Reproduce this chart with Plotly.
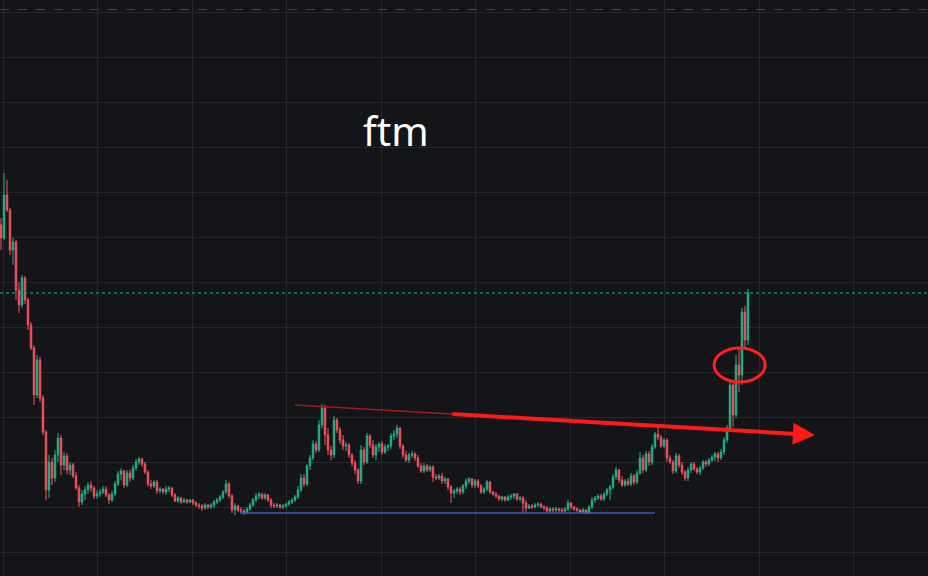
import plotly.graph_objects as go

# candle index (one per bar)
idx = list(range(250))

open_ = [372,359,402,387,347,355,307,292,319,297,272,249,202,237,199,165,107,135,119,142,
         159,132,141,127,132,121,109,95,103,107,112,109,101,103,105,108,102,97,103,113,
         123,126,112,124,119,129,135,138,133,125,113,111,115,106,108,105,108,109,102,96,
         99,95,97,95,97,94,92,91,89,92,90,92,95,97,100,105,113,101,87,91,
         87,86,84,88,92,97,101,103,99,102,97,92,91,92,90,91,93,95,97,100,
         107,119,113,131,139,153,147,172,189,162,147,142,177,167,157,151,152,142,134,127,
         116,147,135,161,152,142,150,153,145,150,151,161,163,169,151,142,137,142,143,139,
         131,126,131,127,130,120,119,121,116,118,110,104,106,108,105,111,116,118,112,116,
         111,105,108,115,105,103,101,98,100,97,100,101,103,98,99,94,89,91,90,92,
         93,90,89,86,88,87,88,87,86,88,94,90,88,87,85,87,84,90,97,99,
         101,98,103,107,110,120,127,117,112,116,113,121,115,124,139,127,143,135,150,163,
         160,151,157,139,135,126,141,132,125,119,127,133,128,125,129,135,133,137,140,143,
         139,145,157,169,212,182,232,222,285,257]
close = [359,402,387,347,355,307,292,319,297,272,249,202,237,199,165,107,135,119,142,159,
         132,141,127,132,121,109,95,103,107,112,109,101,103,105,108,102,97,103,113,123,
         126,112,124,119,129,135,138,133,125,113,111,115,106,108,105,108,109,102,96,99,
         95,97,95,97,94,92,91,89,92,90,92,95,97,100,105,113,101,87,91,87,
         86,84,88,92,97,101,103,99,102,97,92,91,92,90,91,93,95,97,100,107,
         119,113,131,139,153,147,172,189,162,147,142,177,167,157,151,152,142,134,127,116,
         147,135,161,152,142,150,153,145,150,151,161,163,169,151,142,137,142,143,139,131,
         126,131,127,130,120,119,121,116,118,110,104,106,108,105,111,116,118,112,116,111,
         105,108,115,105,103,101,98,100,97,100,101,103,98,99,94,89,91,90,92,93,
         90,89,86,88,87,88,87,86,88,94,90,88,87,85,87,84,90,97,99,101,
         98,103,107,110,120,127,117,112,116,113,121,115,124,139,127,143,135,150,163,160,
         151,157,139,135,126,141,132,125,119,127,133,128,125,129,135,133,137,140,143,139,
         145,157,169,212,182,232,222,285,257,304]
high = [379,424,417,389,359,357,315,322,321,299,275,252,242,240,202,167,142,139,147,164,
        162,145,144,135,134,125,112,107,111,115,116,111,107,108,111,111,104,106,116,126,
        129,127,127,127,132,138,140,139,135,127,117,117,117,110,109,111,111,110,104,101,
        100,99,98,98,98,96,94,93,94,93,94,97,99,102,107,117,115,103,94,92,
        90,88,90,94,99,104,105,104,104,103,99,94,94,93,93,94,97,99,102,111,
        123,123,133,142,157,156,177,193,192,169,151,181,179,170,162,155,154,144,137,129,
        152,150,164,163,157,153,155,156,153,153,164,167,172,170,153,146,144,146,145,142,
        134,134,133,132,132,123,123,124,120,119,112,108,110,110,113,119,120,119,118,118,
        113,110,117,116,106,105,102,101,101,102,103,104,104,101,101,97,93,93,94,95,
        94,92,91,90,90,90,89,89,90,97,95,91,90,88,89,88,92,100,101,103,
        103,105,109,112,123,130,128,121,118,119,124,123,127,145,142,146,146,153,165,171,
        162,159,159,142,137,144,143,135,127,130,135,135,130,131,137,137,139,142,145,145,
        148,160,172,215,217,242,249,289,291,308]
low = [347,357,385,342,332,297,284,289,293,267,247,192,199,195,162,97,99,112,115,135,
       122,127,123,122,119,107,90,92,97,103,105,98,98,100,103,100,93,95,101,111,
       117,109,110,115,117,126,132,130,123,110,108,109,103,104,103,102,105,100,95,94,
       93,94,93,94,92,90,88,86,87,88,88,89,93,95,98,103,99,84,82,85,
       84,82,83,86,90,95,98,97,97,95,89,89,89,88,88,89,91,93,95,98,
       105,110,111,127,137,144,145,169,152,142,137,139,164,153,147,146,139,131,123,113,
       113,132,133,149,139,137,145,142,143,146,148,157,159,148,139,135,134,139,136,129,
       124,124,125,125,115,117,117,113,113,107,94,99,103,102,103,108,113,109,109,109,
       103,103,106,103,101,99,96,96,95,96,97,98,96,96,84,84,88,88,89,90,
       89,87,85,85,85,85,85,84,85,86,88,86,85,84,84,83,83,88,94,97,
       96,96,101,97,108,117,114,110,110,111,111,112,113,122,124,125,131,132,148,157,
       149,149,135,133,123,124,129,122,116,116,124,126,123,122,127,130,131,135,136,135,
       137,142,154,167,170,179,205,212,249,252]

# annotation levels (same price units)
trend_start = (98, 192)
trend_end = (271.3, 162)
support_level = 84
support_span = (79.7, 218)
last_price = 304
top_level = 587.5
circle_box = (237.7, 254.7, 215, 249)

BG = "#141518"
GRID = "#25272b"
UP = "#1fb58a"
DOWN = "#f7525f"

fig = go.Figure()
fig.add_trace(go.Candlestick(
    x=idx, open=open_, high=high, low=low, close=close,
    increasing=dict(line=dict(color=UP, width=1), fillcolor=UP),
    decreasing=dict(line=dict(color=DOWN, width=1), fillcolor=DOWN),
    whiskerwidth=0, hoverinfo="skip", showlegend=False,
))

shapes = []
shapes.append(dict(type="line", xref="paper", x0=0, x1=1, yref="y", y0=top_level, y1=top_level,
                   line=dict(color="#35445a", width=1, dash="dash")))
shapes.append(dict(type="line", xref="paper", x0=0, x1=1, yref="y", y0=last_price, y1=last_price,
                   line=dict(color="#1fb58a", width=1, dash="dot")))
shapes.append(dict(type="line", x0=support_span[0], x1=support_span[1], y0=support_level, y1=support_level,
                   line=dict(color="#3a5ab8", width=1.5)))
shapes.append(dict(type="line", x0=trend_start[0], y0=trend_start[1],
                   x1=trend_start[0] + 0.35 * (trend_end[0] - trend_start[0]),
                   y1=trend_start[1] + 0.35 * (trend_end[1] - trend_start[1]),
                   line=dict(color="#a01c1c", width=1.5)))
shapes.append(dict(type="circle", x0=circle_box[0], x1=circle_box[1], y0=circle_box[2], y1=circle_box[3],
                   line=dict(color="#ff1f1f", width=3)))

annotations = [
    dict(x=trend_end[0], y=trend_end[1], ax=trend_start[0] + 0.3 * (trend_end[0] - trend_start[0]),
         ay=trend_start[1] + 0.3 * (trend_end[1] - trend_start[1]),
         xref="x", yref="y", axref="x", ayref="y", showarrow=True, text="",
         arrowhead=2, arrowsize=1.1, arrowwidth=4, arrowcolor="#ff1a1a"),
    dict(x=396 / 928, y=1 - 130 / 576, xref="paper", yref="paper", text="ftm", showarrow=False,
         font=dict(family="Noto Sans", size=40, color="#ffffff"), xanchor="center", yanchor="middle"),
]

fig.update_layout(
    width=928, height=576, margin=dict(l=0, r=0, t=0, b=0),
    paper_bgcolor=BG, plot_bgcolor=BG,
    shapes=shapes, annotations=annotations,
    xaxis=dict(range=[-0.333, 309], rangeslider=dict(visible=False), showgrid=True, gridcolor=GRID,
               gridwidth=1, tick0=0.667, dtick=31.5, showticklabels=False, zeroline=False, ticks=""),
    yaxis=dict(range=[21, 597], showgrid=True, gridcolor=GRID, gridwidth=1, tick0=0, dtick=45,
               showticklabels=False, zeroline=False, ticks=""),
    hovermode=False,
)

fig.write_html(
    "out.html",
    config={"displayModeBar": False},
    post_script="document.body.style.margin='0';document.body.style.padding='0';"
                "document.body.style.background='#141518';document.body.style.overflow='hidden';",
)
